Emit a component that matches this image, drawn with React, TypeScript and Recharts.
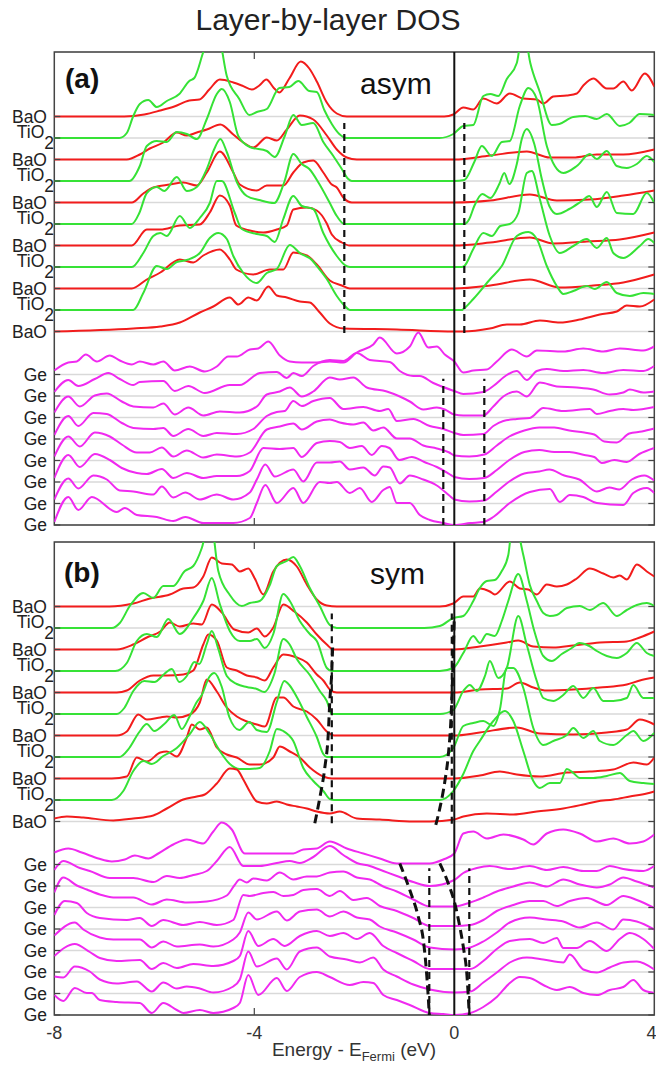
import { LineChart, Line, XAxis, YAxis, CartesianGrid, ReferenceLine, ReferenceArea } from 'recharts';

type Pt = [number, number];

// values are [energy (eV), DOS height above the layer baseline (arb. units)]

// ---- panel (a) "asym": oxide layers, top (BaO) to bottom (BaO)
const aBaO1: Pt[] = [[-8,0],[-6.6,0],[-6.2,2],[-5.88,6],[-5.6,10],[-5.3,16],[-5.1,17],[-4.9,27],[-4.69,37],[-4.42,34],[-4.25,31],[-4.05,27],[-3.9,31],[-3.76,37],[-3.6,28],[-3.5,24],[-3.3,38],[-3.07,55],[-2.9,48],[-2.75,35],[-2.55,14],[-2.35,3],[-2.15,0],[-0.2,0],[-0.02,2],[0.18,9],[0.38,7],[0.58,18],[0.85,13],[1.11,23],[1.38,18],[1.65,17],[1.78,13],[1.98,20],[2.25,21],[2.45,23],[2.58,31],[2.78,38],[3.05,28],[3.18,28],[3.38,35],[3.55,26],[3.81,43],[4,30]];
const aTiO1: Pt[] = [[-8,0],[-6.7,0],[-6.55,5],[-6.42,22],[-6.29,34],[-6.12,38],[-5.95,31],[-5.75,37],[-5.5,44],[-5.3,57],[-5.2,60],[-5.02,86],[-4.85,110],[-4.7,100],[-4.55,62],[-4.3,39],[-4.1,23],[-3.95,26],[-3.75,29],[-3.5,50],[-3.3,51],[-3.12,57],[-2.9,47],[-2.75,46],[-2.6,28],[-2.45,14],[-2.3,4],[-2.15,0],[-0.3,0],[-0.02,4],[0.18,12],[0.38,13],[0.58,42],[0.72,44],[0.88,42],[1.05,59],[1.25,75],[1.38,110],[1.52,75],[1.71,46],[1.95,13],[2.1,14],[2.38,21],[2.62,22],[2.85,19],[3.05,24],[3.31,12],[3.5,15],[3.71,24],[4,23]];
const aBaO2: Pt[] = [[-8,0],[-6.55,0],[-6.29,5],[-6.09,11],[-5.82,17],[-5.55,27],[-5.35,24],[-5.15,27],[-4.95,30],[-4.68,35],[-4.42,25],[-4.22,17],[-4.02,12],[-3.75,22],[-3.55,19],[-3.35,30],[-3.09,44],[-2.82,40],[-2.55,24],[-2.35,10],[-2.15,2],[-1.95,0],[0,0],[0.72,4],[1.45,8],[1.91,2],[2.38,2],[2.85,5],[3.38,5],[4,10]];
const aTiO2: Pt[] = [[-8,0],[-6.5,0],[-6.29,15],[-6.15,35],[-5.95,40],[-5.75,39],[-5.55,49],[-5.35,47],[-5.15,42],[-4.95,62],[-4.75,87],[-4.65,92],[-4.49,79],[-4.32,45],[-4.09,34],[-3.75,30],[-3.59,24],[-3.39,45],[-3.22,66],[-3.05,56],[-2.82,58],[-2.62,39],[-2.42,25],[-2.25,12],[-2.12,2],[-2.05,0],[0,0],[0.2,1],[0.4,19],[0.55,35],[0.75,25],[0.95,39],[1.11,40],[1.31,75],[1.48,93],[1.65,82],[1.85,35],[2.01,15],[2.18,8],[2.45,15],[2.71,27],[2.85,22],[3.05,30],[3.25,15],[3.45,13],[3.65,17],[3.85,25],[4,19]];
const aBaO3: Pt[] = [[-8,0],[-6.45,0],[-6.22,9],[-6.02,15],[-5.69,18],[-5.42,20],[-5.15,17],[-4.95,30],[-4.69,51],[-4.42,30],[-4.29,18],[-3.95,12],[-3.75,17],[-3.42,17],[-3.22,30],[-3.02,40],[-2.82,42],[-2.62,30],[-2.45,18],[-2.35,15],[-2.22,5],[-2.05,0],[0,0],[0.72,2],[1.51,8],[2.05,2],[2.71,3],[3.38,7],[4,12]];
const aTiO3: Pt[] = [[-8,0],[-6.45,0],[-6.3,11],[-6.15,31],[-5.95,37],[-5.8,33],[-5.55,47],[-5.35,33],[-5.15,37],[-4.95,55],[-4.8,75],[-4.68,85],[-4.55,72],[-4.35,42],[-4.15,28],[-3.9,24],[-3.6,21],[-3.4,42],[-3.22,70],[-3.05,60],[-2.9,55],[-2.7,40],[-2.5,22],[-2.35,8],[-2.2,0],[0.2,0],[0.3,5],[0.4,18],[0.56,30],[0.72,26],[0.9,40],[1.0,51],[1.1,40],[1.25,60],[1.35,85],[1.45,95],[1.6,80],[1.75,45],[1.9,18],[2.05,10],[2.3,15],[2.55,23],[2.7,28],[2.85,17],[3.05,32],[3.25,11],[3.58,10],[3.85,31],[4,21]];
const aBaO4: Pt[] = [[-8,0],[-6.45,0],[-6.15,16],[-5.88,16],[-5.49,20],[-5.09,21],[-4.89,33],[-4.69,50],[-4.49,40],[-4.36,20],[-4.09,15],[-3.82,13],[-3.55,16],[-3.35,20],[-3.22,36],[-2.95,38],[-2.75,35],[-2.55,22],[-2.45,11],[-2.25,3],[-2.09,0],[0,0],[0.72,3],[1.51,8],[1.98,2],[2.65,4],[3.31,6],[4,13]];
const aTiO4: Pt[] = [[-8,0],[-6.45,0],[-6.22,14],[-6.02,31],[-5.88,34],[-5.75,31],[-5.49,51],[-5.29,39],[-5.09,49],[-4.89,64],[-4.75,86],[-4.65,86],[-4.39,54],[-4.25,38],[-3.95,33],[-3.75,31],[-3.59,25],[-3.42,48],[-3.22,71],[-3.05,61],[-2.82,58],[-2.62,34],[-2.35,11],[-2.19,2],[-2.09,0],[0.15,0],[0.2,1],[0.38,18],[0.58,34],[0.75,31],[0.92,41],[1.11,43],[1.28,54],[1.45,94],[1.55,96],[1.71,68],[1.91,31],[2.11,14],[2.38,21],[2.65,28],[2.85,19],[3.05,29],[3.18,14],[3.38,9],[3.71,21],[3.88,28],[4,24]];
const aBaO5: Pt[] = [[-8,0],[-6.45,0],[-6.15,9],[-5.88,16],[-5.49,29],[-5.22,26],[-5.02,33],[-4.69,39],[-4.49,29],[-4.36,19],[-4.02,14],[-3.69,19],[-3.42,19],[-3.22,36],[-2.95,33],[-2.75,24],[-2.49,8],[-2.25,3],[-2.09,0],[0,0],[0.72,3],[1.51,9],[2.11,1],[2.78,3],[3.38,6],[4,14]];
const aTiO5: Pt[] = [[-8,0],[-6.42,0],[-6.22,17],[-5.95,44],[-5.75,41],[-5.55,48],[-5.35,50],[-5.09,57],[-4.89,72],[-4.72,77],[-4.55,71],[-4.42,54],[-4.22,37],[-3.95,27],[-3.75,37],[-3.55,41],[-3.29,65],[-3.09,57],[-2.85,50],[-2.75,44],[-2.55,31],[-2.35,14],[-2.19,4],[-2.09,0],[0.15,0],[0.18,1],[0.38,11],[0.72,31],[0.95,44],[1.25,74],[1.48,78],[1.65,71],[1.85,44],[2.05,24],[2.18,16],[2.38,19],[2.65,24],[2.81,21],[3.05,28],[3.25,17],[3.51,14],[3.78,17],[4,16]];
const aBaO6: Pt[] = [[-8,0],[-6.42,3],[-5.88,5],[-5.49,9],[-5.09,19],[-4.82,25],[-4.49,34],[-4.32,27],[-4.12,34],[-3.95,31],[-3.72,45],[-3.55,36],[-3.35,34],[-3.09,30],[-2.89,29],[-2.69,19],[-2.49,8],[-2.21,3],[-1.15,2],[0,0],[0.18,0],[0.71,3],[1.05,7],[1.31,7],[1.71,11],[2.11,9],[2.51,12],[2.91,17],[3.25,20],[3.45,26],[3.71,25],[4,32]];

// ---- panel (a): Ge layers, top to bottom
const aGe1: Pt[] = [[-8,4],[-7.72,12],[-7.55,13],[-7.37,20],[-7.15,13],[-6.89,19],[-6.69,14],[-6.45,10],[-6.29,13],[-6.02,10],[-5.82,13],[-5.59,4],[-5.29,8],[-4.99,3],[-4.75,8],[-4.52,18],[-4.35,18],[-4.09,25],[-3.92,26],[-3.72,33],[-3.49,19],[-3.29,13],[-3.05,12],[-2.75,12],[-2.49,13],[-2.22,12],[-1.95,22],[-1.62,30],[-1.49,37],[-1.15,21],[-0.89,28],[-0.72,42],[-0.52,27],[-0.35,28],[-0.19,20],[0,13],[0.18,2],[0.38,4],[0.65,5],[0.85,13],[1.15,25],[1.45,18],[1.65,24],[2.18,23],[2.58,26],[2.98,23],[3.31,26],[3.78,24],[4,28]];
const aGe2: Pt[] = [[-8,4],[-7.72,16],[-7.52,10],[-7.19,17],[-6.92,23],[-6.69,17],[-6.42,11],[-6.29,14],[-5.82,15],[-5.59,5],[-5.32,10],[-4.99,3],[-4.49,11],[-4.29,11],[-3.89,23],[-3.55,24],[-3.35,18],[-3.22,23],[-3.05,20],[-2.82,30],[-2.49,36],[-2.22,35],[-1.95,43],[-1.69,36],[-1.29,34],[-1.09,25],[-0.82,20],[-0.69,20],[-0.42,13],[0,5],[0.18,2],[0.58,4],[0.78,10],[1.05,21],[1.25,25],[1.45,16],[1.65,25],[1.85,27],[2.18,25],[2.58,26],[2.98,23],[3.38,26],[3.78,25],[4,30]];
const aGe3: Pt[] = [[-8,5],[-7.72,21],[-7.49,11],[-7.19,22],[-6.95,24],[-6.65,16],[-6.42,11],[-6.02,10],[-5.82,14],[-5.59,3],[-5.32,10],[-5.02,2],[-4.69,6],[-4.29,5],[-3.95,11],[-3.75,23],[-3.49,26],[-3.29,30],[-3.05,21],[-2.82,26],[-2.49,40],[-2.29,38],[-2.02,40],[-1.75,30],[-1.35,26],[-1.09,21],[-0.89,16],[-0.62,8],[-0.35,10],[-0.19,8],[0,3],[0.18,2],[0.58,2],[0.78,11],[0.98,21],[1.25,26],[1.45,21],[1.71,35],[2.05,31],[2.45,30],[2.78,28],[3.11,23],[3.38,25],[3.51,28],[3.78,25],[4,26]];
const aGe4: Pt[] = [[-8,4],[-7.72,23],[-7.52,13],[-7.22,26],[-6.95,25],[-6.65,16],[-6.42,11],[-6.02,10],[-5.82,11],[-5.62,3],[-5.32,10],[-5.02,3],[-4.75,6],[-4.35,5],[-4.02,10],[-3.75,23],[-3.55,27],[-3.39,28],[-3.22,38],[-3.05,33],[-2.82,38],[-2.49,41],[-2.22,30],[-1.82,32],[-1.49,28],[-1.32,30],[-1.15,18],[-0.82,20],[-0.49,13],[-0.22,10],[0,6],[0.18,4],[0.58,5],[0.78,13],[0.98,18],[1.25,20],[1.51,21],[1.78,31],[2.18,28],[2.71,30],[2.85,25],[3.11,28],[3.38,30],[3.58,29],[4,32]];
const aGe5: Pt[] = [[-8,4],[-7.72,24],[-7.49,14],[-7.19,28],[-6.89,24],[-6.65,16],[-6.35,8],[-6.09,8],[-5.85,13],[-5.62,4],[-5.35,10],[-5.02,3],[-4.75,6],[-4.35,4],[-4.09,8],[-3.75,31],[-3.49,34],[-3.22,37],[-3.05,31],[-2.75,39],[-2.49,41],[-2.29,38],[-2.02,36],[-1.82,38],[-1.62,30],[-1.42,33],[-1.15,22],[-0.89,22],[-0.62,15],[-0.35,12],[-0.1,8],[0,5],[0.3,4],[0.6,6],[0.85,15],[1.1,24],[1.4,30],[1.7,33],[2.0,33],[2.3,30],[2.6,28],[2.8,26],[3.0,19],[3.25,18],[3.5,27],[3.75,29],[4,32]];
const aGe6: Pt[] = [[-8,4],[-7.72,27],[-7.49,15],[-7.19,28],[-6.89,22],[-6.65,14],[-6.35,9],[-6.15,8],[-5.85,13],[-5.62,4],[-5.35,9],[-5.02,4],[-4.75,6],[-4.35,6],[-4.09,11],[-3.82,34],[-3.49,33],[-3.22,34],[-3.05,25],[-2.75,39],[-2.49,41],[-2.29,40],[-2.09,34],[-1.85,36],[-1.65,27],[-1.45,36],[-1.3,34],[-1.1,22],[-0.85,25],[-0.6,20],[-0.35,15],[-0.1,8],[0,5],[0.3,3],[0.6,4],[0.85,12],[1.1,22],[1.4,30],[1.7,32],[2.0,30],[2.3,30],[2.6,27],[2.8,25],[2.95,19],[3.2,22],[3.45,20],[3.7,28],[4,34]];
const aGe7: Pt[] = [[-8,4],[-7.72,25],[-7.52,15],[-7.22,28],[-6.95,24],[-6.69,13],[-6.42,12],[-6.02,9],[-5.85,17],[-5.62,6],[-5.38,11],[-5.09,4],[-4.75,9],[-4.42,4],[-4.09,11],[-3.95,24],[-3.78,39],[-3.59,27],[-3.22,34],[-3.02,22],[-2.75,41],[-2.49,41],[-2.29,42],[-2.09,34],[-1.82,36],[-1.59,28],[-1.42,37],[-1.29,36],[-1.09,20],[-0.89,28],[-0.62,24],[-0.35,18],[-0.1,8],[0,4],[0.3,2],[0.6,3],[0.85,12],[1.1,22],[1.4,30],[1.7,32],[1.9,34],[2.2,28],[2.5,24],[2.85,12],[3.1,16],[3.3,14],[3.55,24],[3.8,28],[4,23]];
const aGe8: Pt[] = [[-8,3],[-7.72,28],[-7.52,15],[-7.25,28],[-6.75,13],[-6.59,17],[-6.35,10],[-5.95,8],[-5.62,4],[-5.38,8],[-5.02,2],[-4.42,2],[-4.09,7],[-3.95,22],[-3.78,40],[-3.55,22],[-3.22,37],[-3.02,22],[-2.69,43],[-2.49,42],[-2.35,43],[-2.09,32],[-1.89,37],[-1.65,23],[-1.42,35],[-1.29,38],[-1.15,22],[-0.89,22],[-0.69,10],[-0.49,5],[-0.22,2],[0,0],[0.32,2],[0.58,3],[0.78,8],[1.11,22],[1.51,33],[1.91,36],[2.11,23],[2.31,30],[2.58,28],[2.85,22],[3.38,20],[3.58,32],[3.85,37],[4,32]];

// ---- panel (b) "sym": oxide layers
const bBaO1: Pt[] = [[-8,0],[-6.9,0],[-6.42,3],[-6.09,8],[-5.69,12],[-5.42,18],[-5.22,19],[-5.02,30],[-4.85,49],[-4.65,43],[-4.45,42],[-4.29,35],[-4.12,38],[-3.99,28],[-3.82,12],[-3.62,35],[-3.35,47],[-3.15,40],[-2.95,22],[-2.75,7],[-2.55,1],[-2.35,0],[-0.29,0],[-0.02,3],[0.18,10],[0.38,10],[0.51,18],[0.71,15],[0.81,12],[1.11,25],[1.31,18],[1.48,17],[1.65,12],[1.85,22],[2.05,20],[2.25,22],[2.45,28],[2.71,38],[2.98,33],[3.18,29],[3.31,31],[3.45,27],[3.65,42],[3.85,35],[4,30]];
const bTiO1: Pt[] = [[-8,0],[-6.85,0],[-6.69,5],[-6.49,22],[-6.22,35],[-6.02,30],[-5.82,42],[-5.62,42],[-5.39,57],[-5.22,62],[-5.05,80],[-4.88,110],[-4.72,57],[-4.49,33],[-4.25,22],[-4.09,25],[-3.89,27],[-3.69,43],[-3.55,62],[-3.35,67],[-3.22,71],[-3.09,62],[-2.89,40],[-2.69,22],[-2.49,3],[-2.35,0],[-0.6,0],[-0.29,2],[-0.02,10],[0.18,12],[0.38,27],[0.51,40],[0.65,47],[0.81,48],[0.95,57],[1.08,73],[1.18,110],[1.38,73],[1.51,43],[1.65,27],[1.78,15],[1.91,12],[2.05,13],[2.25,20],[2.51,22],[2.71,18],[2.98,25],[3.25,12],[3.45,18],[3.65,23],[3.85,25],[4,22]];
const bBaO2: Pt[] = [[-8,0],[-6.75,0],[-6.42,5],[-6.15,12],[-5.88,18],[-5.69,27],[-5.49,23],[-5.22,26],[-5.05,25],[-4.85,45],[-4.65,37],[-4.4,20],[-4.12,17],[-3.95,21],[-3.79,13],[-3.62,22],[-3.42,45],[-3.2,38],[-2.95,27],[-2.75,15],[-2.55,5],[-2.42,0],[0,0],[0.51,3],[1.05,7],[1.28,9],[1.58,3],[1.98,2],[2.38,4],[2.91,7],[3.45,8],[3.71,12],[4,18]];
const bTiO2: Pt[] = [[-8,0],[-6.78,0],[-6.55,8],[-6.35,30],[-6.15,37],[-5.95,34],[-5.72,52],[-5.49,37],[-5.22,53],[-5.02,70],[-4.85,93],[-4.69,67],[-4.49,40],[-4.29,30],[-4.09,30],[-3.95,32],[-3.79,23],[-3.62,37],[-3.42,77],[-3.29,70],[-3.09,50],[-2.89,37],[-2.75,30],[-2.55,3],[-2.45,0],[-0.29,0],[-0.02,3],[0.18,18],[0.38,35],[0.51,28],[0.65,37],[0.81,35],[0.95,50],[1.08,70],[1.28,97],[1.45,70],[1.6,40],[1.78,15],[1.95,10],[2.15,17],[2.35,23],[2.5,28],[2.7,25],[2.85,20],[3.05,15],[3.25,13],[3.45,18],[3.65,28],[3.85,18],[4,15]];
const bBaO3: Pt[] = [[-8,0],[-6.75,0],[-6.55,2],[-6.29,12],[-6.02,17],[-5.75,17],[-5.42,18],[-5.22,22],[-5.02,48],[-4.92,58],[-4.75,52],[-4.55,25],[-4.35,22],[-4.15,17],[-3.95,15],[-3.79,12],[-3.62,25],[-3.42,38],[-3.15,35],[-2.95,30],[-2.75,18],[-2.62,12],[-2.49,3],[-2.35,0],[0,0],[0.51,3],[1.05,4],[1.31,10],[1.58,5],[1.85,2],[2.38,3],[2.91,5],[3.45,8],[3.71,12],[4,15]];
const bTiO3: Pt[] = [[-8,0],[-6.75,0],[-6.6,6],[-6.42,23],[-6.2,33],[-6.0,32],[-5.8,40],[-5.65,45],[-5.5,32],[-5.35,38],[-5.2,52],[-5.1,50],[-4.95,70],[-4.85,83],[-4.72,65],[-4.55,38],[-4.35,30],[-4.15,27],[-3.95,25],[-3.8,22],[-3.6,40],[-3.42,75],[-3.3,70],[-3.15,55],[-2.89,39],[-2.69,23],[-2.55,13],[-2.45,0],[-0.29,0],[-0.02,4],[0.18,23],[0.31,29],[0.45,23],[0.62,39],[0.71,53],[0.88,36],[1.05,46],[1.28,98],[1.45,69],[1.65,33],[1.78,16],[1.98,13],[2.18,19],[2.38,28],[2.58,16],[2.78,26],[2.98,13],[3.18,13],[3.45,16],[3.58,29],[3.78,16],[4,16]];
const bBaO4: Pt[] = [[-8,0],[-6.75,0],[-6.55,4],[-6.32,21],[-6.15,16],[-5.88,18],[-5.75,19],[-5.55,18],[-5.29,21],[-5.09,33],[-4.95,56],[-4.75,44],[-4.55,28],[-4.35,19],[-4.15,14],[-3.95,11],[-3.79,9],[-3.55,38],[-3.42,38],[-3.22,29],[-2.95,24],[-2.75,16],[-2.55,4],[-2.4,0],[0,0],[0.51,3],[1.25,8],[1.71,2],[2.38,1],[3.05,3],[3.45,6],[3.71,16],[4,11]];
const bTiO4: Pt[] = [[-8,0],[-6.7,0],[-6.5,9],[-6.3,25],[-6.15,33],[-6.0,26],[-5.8,33],[-5.6,42],[-5.45,28],[-5.3,40],[-5.15,55],[-5.05,62],[-4.9,80],[-4.8,84],[-4.65,70],[-4.5,40],[-4.3,27],[-4.1,35],[-3.95,27],[-3.75,25],[-3.55,55],[-3.4,76],[-3.3,72],[-3.15,60],[-2.95,40],[-2.75,20],[-2.62,3],[-2.55,0],[-0.29,0],[-0.02,9],[0.18,31],[0.38,34],[0.58,36],[0.78,31],[0.91,47],[1.05,89],[1.18,89],[1.38,69],[1.58,29],[1.78,12],[1.98,16],[2.25,22],[2.38,29],[2.58,19],[2.78,26],[2.91,16],[3.18,12],[3.45,22],[3.58,26],[3.78,16],[4,24]];
const bBaO5: Pt[] = [[-8,0],[-6.85,0],[-6.55,2],[-6.35,21],[-6.15,17],[-5.88,26],[-5.75,27],[-5.55,22],[-5.35,41],[-5.25,54],[-5.09,49],[-4.95,51],[-4.75,31],[-4.55,24],[-4.35,21],[-4.09,14],[-3.89,14],[-3.62,21],[-3.49,32],[-3.29,27],[-3.09,21],[-2.89,11],[-2.62,2],[-2.45,0],[0,0],[0.51,3],[0.91,7],[1.25,4],[1.71,2],[2.25,6],[2.71,7],[3.18,9],[3.58,16],[3.85,14],[4,21]];
const bTiO5: Pt[] = [[-8,0],[-6.85,0],[-6.62,9],[-6.42,29],[-6.22,39],[-6.05,36],[-5.82,44],[-5.55,52],[-5.29,66],[-5.09,78],[-4.89,66],[-4.69,49],[-4.49,36],[-4.29,31],[-4.09,31],[-3.89,32],[-3.69,49],[-3.55,71],[-3.42,69],[-3.22,59],[-3.02,32],[-2.82,19],[-2.62,9],[-2.49,1],[-2.4,0],[-0.29,0],[-0.02,9],[0.18,26],[0.38,49],[0.51,59],[0.78,79],[1.01,89],[1.18,79],[1.38,49],[1.58,19],[1.71,12],[1.91,17],[2.11,17],[2.25,31],[2.38,27],[2.51,22],[2.78,22],[3.05,24],[3.31,27],[3.51,19],[3.78,17],[4,16]];
const bBaO6: Pt[] = [[-8,3],[-7.75,5],[-7.42,4],[-6.82,1],[-6.42,3],[-6.02,6],[-5.75,13],[-5.42,22],[-5.15,25],[-4.99,27],[-4.75,38],[-4.49,53],[-4.35,52],[-4.22,42],[-4.09,30],[-3.95,20],[-3.75,18],[-3.55,20],[-3.35,17],[-3.15,15],[-2.95,13],[-2.75,10],[-2.49,8],[-2.29,10],[-1.95,3],[-1.49,2],[-0.82,0],[-0.49,0],[0,2],[0.18,5],[0.65,8],[1.18,7],[1.65,10],[2.18,13],[2.58,17],[2.85,20],[3.18,22],[3.51,25],[3.85,28],[4,30]];

// ---- panel (b): Ge layers
const bGe1: Pt[] = [[-8,12],[-7.72,16],[-7.45,12],[-7.12,6],[-6.85,3],[-6.59,5],[-6.39,9],[-6.12,6],[-5.92,11],[-5.62,20],[-5.35,25],[-5.02,21],[-4.82,33],[-4.65,42],[-4.45,35],[-4.19,11],[-3.89,11],[-3.55,11],[-3.22,11],[-3.02,15],[-2.75,16],[-2.49,23],[-2.15,16],[-1.82,11],[-1.49,6],[-1.15,1],[-0.75,1],[-0.49,1],[-0.22,5],[0,11],[0.18,31],[0.38,33],[0.65,26],[0.98,30],[1.38,25],[1.58,20],[1.85,31],[2.18,35],[2.51,31],[2.85,23],[3.18,26],[3.51,21],[3.78,23],[4,30]];
const bGe2: Pt[] = [[-8,16],[-7.82,25],[-7.49,18],[-7.29,15],[-6.89,8],[-6.42,8],[-6.02,4],[-5.75,10],[-5.49,8],[-5.22,11],[-4.95,15],[-4.75,25],[-4.49,39],[-4.22,20],[-3.89,20],[-3.55,23],[-3.29,25],[-3.09,23],[-2.82,29],[-2.49,40],[-2.22,31],[-1.95,23],[-1.69,20],[-1.42,15],[-1.15,10],[-0.82,4],[-0.49,0],[0,6],[0.18,13],[0.45,18],[0.71,20],[1.11,17],[1.51,20],[1.85,16],[2.18,19],[2.58,15],[2.85,15],[3.11,20],[3.38,17],[3.78,15],[4,20]];
const bGe3: Pt[] = [[-8,15],[-7.82,30],[-7.55,22],[-7.35,18],[-7.09,13],[-6.82,10],[-6.42,10],[-6.05,3],[-5.75,8],[-5.35,5],[-4.95,6],[-4.55,12],[-4.4,22],[-4.29,28],[-4.15,25],[-4.02,29],[-3.75,27],[-3.49,35],[-3.22,28],[-2.95,31],[-2.75,31],[-2.49,35],[-2.22,36],[-1.95,30],[-1.69,28],[-1.42,21],[-1.15,16],[-0.82,8],[-0.49,1],[0,1],[0.32,5],[0.58,10],[0.85,16],[1.18,21],[1.51,25],[1.85,21],[2.18,28],[2.51,23],[2.85,20],[3.11,23],[3.38,30],[3.65,26],[4,20]];
const bGe4: Pt[] = [[-8,14],[-7.79,28],[-7.55,26],[-7.35,16],[-7.09,11],[-6.55,9],[-6.29,11],[-6.05,3],[-5.82,9],[-5.42,4],[-5.09,7],[-4.75,4],[-4.42,9],[-4.22,34],[-4.09,33],[-3.82,36],[-3.62,37],[-3.42,33],[-3.22,34],[-3.02,39],[-2.75,40],[-2.49,33],[-2.29,38],[-2.02,29],[-1.75,31],[-1.49,23],[-1.15,18],[-0.82,11],[-0.49,3],[0,3],[0.32,4],[0.58,9],[0.85,18],[1.18,24],[1.51,28],[1.78,28],[2.05,23],[2.31,28],[2.65,31],[3.05,24],[3.38,33],[3.65,29],[4,21]];
const bGe5: Pt[] = [[-8,15],[-7.59,28],[-7.42,21],[-7.09,13],[-6.82,11],[-6.29,11],[-6.05,3],[-5.82,9],[-5.55,4],[-5.09,6],[-4.82,4],[-4.42,11],[-4.29,18],[-4.12,38],[-3.95,31],[-3.55,39],[-3.35,30],[-3.09,39],[-2.75,41],[-2.49,34],[-2.22,39],[-1.95,33],[-1.69,31],[-1.49,24],[-1.15,18],[-0.82,11],[-0.49,3],[0,1],[0.32,3],[0.58,9],[0.85,18],[1.11,28],[1.51,33],[1.85,31],[2.18,29],[2.51,23],[2.85,28],[3.18,21],[3.38,31],[3.65,29],[4,21]];
const bGe6: Pt[] = [[-8,16],[-7.59,28],[-7.29,20],[-7.09,14],[-6.75,11],[-6.29,12],[-6.05,3],[-5.82,9],[-5.55,4],[-5.22,8],[-4.82,6],[-4.42,11],[-4.29,16],[-4.12,41],[-3.92,26],[-3.62,33],[-3.39,26],[-3.09,36],[-2.75,41],[-2.49,36],[-2.22,39],[-1.95,33],[-1.69,39],[-1.42,26],[-1.15,19],[-0.82,11],[-0.49,3],[0,3],[0.32,3],[0.58,11],[0.85,23],[1.11,31],[1.51,33],[1.78,29],[2.05,34],[2.18,24],[2.45,24],[2.71,31],[3.05,21],[3.31,33],[3.51,39],[3.78,33],[4,23]];
const bGe7: Pt[] = [[-8,17],[-7.82,16],[-7.59,27],[-7.29,22],[-7.09,14],[-6.75,10],[-6.35,12],[-6.05,2],[-5.82,11],[-5.55,5],[-5.35,7],[-5.09,5],[-4.82,1],[-4.42,7],[-4.29,14],[-4.12,42],[-3.95,27],[-3.55,35],[-3.35,24],[-3.09,42],[-2.75,46],[-2.49,37],[-2.15,34],[-1.89,31],[-1.62,36],[-1.42,24],[-1.15,17],[-0.82,9],[-0.49,4],[0,1],[0.32,2],[0.58,11],[0.85,21],[1.11,31],[1.45,36],[1.78,34],[2.18,31],[2.31,39],[2.58,24],[2.85,21],[3.11,26],[3.38,31],[3.65,32],[4,24]];
const bGe8: Pt[] = [[-8,20],[-7.82,14],[-7.59,27],[-7.35,22],[-7.25,22],[-7.09,15],[-6.75,13],[-6.29,12],[-6.05,2],[-5.82,12],[-5.55,5],[-5.42,2],[-5.09,5],[-4.82,2],[-4.42,7],[-4.29,12],[-4.12,40],[-3.92,20],[-3.55,37],[-3.35,24],[-3.09,38],[-2.75,43],[-2.49,38],[-2.09,30],[-1.82,33],[-1.62,32],[-1.42,20],[-1.15,15],[-0.89,10],[-0.49,2],[-0.22,1],[0,0],[0.32,2],[0.58,8],[0.85,18],[1.11,32],[1.31,38],[1.51,37],[1.78,30],[2.05,25],[2.31,28],[2.58,22],[2.85,20],[3.11,25],[3.38,28],[3.58,35],[3.78,25],[4,22]];

// band-edge guides: [energy, layer level]
const edgeA: Pt[][] = [
  [[-2.2, 8.93], [-2.2, 18.7]],
  [[0.2, 8.93], [0.2, 18.7]],
  [[-0.22, 0], [-0.22, 6.8]],
  [[0.6, 0], [0.6, 6.8]],
];
const edgeBStraight: Pt[][] = [
  [[-2.45, 8.92], [-2.45, 18.68]],
  [[-0.05, 8.9], [-0.05, 18.68]],
  [[-0.5, 0], [-0.5, 6.82]],
  [[0.3, 0], [0.3, 6.82]],
];
const edgeBBent: Pt[][] = [
  [[-2.79, 8.92], [-2.69, 10.1], [-2.59, 11.5], [-2.52, 13.1], [-2.49, 14.6], [-2.45, 16.0], [-2.43, 17.3]],
  [[-0.37, 8.84], [-0.29, 9.61], [-0.19, 10.85], [-0.12, 12.09], [-0.07, 13.64], [-0.04, 15.35], [-0.02, 16.9], [0, 18.53]],
  [[-1.09, 7.05], [-0.89, 5.81], [-0.72, 4.57], [-0.62, 3.49], [-0.57, 2.4], [-0.53, 1.16], [-0.5, 0]],
  [[-0.29, 7.05], [-0.12, 6.12], [0.01, 5.19], [0.11, 4.11], [0.19, 3.02], [0.25, 1.94], [0.28, 0.85], [0.3, 0]],
];

const oxidesA = [aBaO1, aTiO1, aBaO2, aTiO2, aBaO3, aTiO3, aBaO4, aTiO4, aBaO5, aTiO5, aBaO6];
const gesA = [aGe1, aGe2, aGe3, aGe4, aGe5, aGe6, aGe7, aGe8];
const oxidesB = [bBaO1, bTiO1, bBaO2, bTiO2, bBaO3, bTiO3, bBaO4, bTiO4, bBaO5, bTiO5, bBaO6];
const gesB = [bGe1, bGe2, bGe3, bGe4, bGe5, bGe6, bGe7, bGe8];

const oxideLevels = [19, 18, 17, 16, 15, 14, 13, 12, 11, 10, 9];
const geLevels = [7, 6, 5, 4, 3, 2, 1, 0];

const SP = 21.5;
const TOP = 473;
const RED = '#f21c1c';
const GREEN = '#36e236';
const MAGENTA = '#f02af0';
const FONT = '"Liberation Sans", Arial, Helvetica, sans-serif';
const PLOT_L = 54.3;
const PLOT_R = 654.3;

const levelTicks = [...geLevels, ...oxideLevels].map((k) => k * SP);

const shift = (pts: Pt[], k: number) => pts.map(([x, h]) => ({ x, y: k * SP + h }));
const guide = (pts: Pt[]) => pts.map(([x, k]) => ({ x, y: k * SP }));

function LayerTick(props: any) {
  const { y, payload } = props;
  const k = Math.round(payload.value / SP);
  const marks = (
    <>
      <line x1={PLOT_L} x2={PLOT_L + 6} y1={y} y2={y} stroke="#444" strokeWidth={1.2} />
      <line x1={PLOT_R - 6} x2={PLOT_R} y1={y} y2={y} stroke="#444" strokeWidth={1.2} />
    </>
  );
  if (k >= 9 && k % 2 === 0) {
    return (
      <g>
        {marks}
        <text x={54} y={y} textAnchor="end" fontSize={17.5} fill="#222" fontFamily={FONT}>
          TiO<tspan dy={11}>2</tspan>
        </text>
      </g>
    );
  }
  return (
    <g>
      {marks}
      <text x={47} y={y + 6.3} textAnchor="end" fontSize={17.5} fill="#222" fontFamily={FONT}>
        {k <= 7 ? 'Ge' : 'BaO'}
      </text>
    </g>
  );
}

function Panel({ oxides, ges, bent, straight, showX, height, margin }: any) {
  return (
    <LineChart width={656} height={height} margin={margin}>
      <CartesianGrid vertical={false} stroke="#d9d9d9" strokeWidth={1.5} />
      <XAxis
        type="number"
        dataKey="x"
        domain={[-8, 4]}
        ticks={[-8, -4, 0, 4]}
        allowDataOverflow
        hide={!showX}
        height={30}
        axisLine={false}
        tickLine={false}
        tickMargin={5}
        tick={{ fontSize: 18, fill: '#333', fontFamily: FONT }}
      />
      <YAxis
        type="number"
        domain={[0, TOP]}
        ticks={levelTicks}
        interval={0}
        width={PLOT_L}
        allowDataOverflow
        axisLine={false}
        tickLine={false}
        tick={(p: any) => <LayerTick {...p} />}
      />
      {ges.map((pts: Pt[], i: number) => (
        <Line key={'g' + i} data={shift(pts, geLevels[i])} dataKey="y" type="monotone" stroke={MAGENTA}
          strokeWidth={2} dot={false} isAnimationActive={false} />
      ))}
      {oxides.map((pts: Pt[], i: number) => (
        <Line key={'o' + i} data={shift(pts, oxideLevels[i])} dataKey="y" type="monotone"
          stroke={i % 2 === 0 ? RED : GREEN} strokeWidth={2} dot={false} isAnimationActive={false} />
      ))}
      {straight.map((pts: Pt[], i: number) => (
        <Line key={'s' + i} data={guide(pts)} dataKey="y" type="linear" stroke="#111" strokeWidth={2.2}
          strokeDasharray="7 5" dot={false} isAnimationActive={false} />
      ))}
      {bent.map((pts: Pt[], i: number) => (
        <Line key={'b' + i} data={guide(pts)} dataKey="y" type="monotone" stroke="#111" strokeWidth={3}
          strokeDasharray="9 5" dot={false} isAnimationActive={false} />
      ))}
      <ReferenceLine x={0} stroke="#111" strokeWidth={2} />
      <ReferenceLine segment={[{ x: -4, y: 0 }, { x: -4, y: 7 }]} stroke="#444" strokeWidth={1.2} />
      <ReferenceLine segment={[{ x: -4, y: TOP - 7 }, { x: -4, y: TOP }]} stroke="#444" strokeWidth={1.2} />
      <ReferenceArea x1={-8} x2={4} y1={0} y2={TOP} fill="none" fillOpacity={0} stroke="#444" strokeWidth={1.5} />
    </LineChart>
  );
}

export default function App() {
  return (
    <div style={{ position: 'absolute', left: 0, top: 0, width: 656, height: 1068, background: '#fff', fontFamily: FONT }}>
      <div style={{ position: 'absolute', left: 0, top: 0 }}>
        <Panel oxides={oxidesA} ges={gesA} bent={[]} straight={edgeA} showX={false} height={535}
          margin={{ top: 52, right: 1.7, bottom: 10, left: 0 }} />
      </div>
      <div style={{ position: 'absolute', left: 0, top: 535 }}>
        <Panel oxides={oxidesB} ges={gesB} bent={edgeBBent} straight={edgeBStraight} showX height={533}
          margin={{ top: 7, right: 1.7, bottom: 23, left: 0 }} />
      </div>
      <svg width={656} height={1068} style={{ position: 'absolute', left: 0, top: 0, pointerEvents: 'none' }}
        fontFamily={FONT}>
        <text x={328} y={30} textAnchor="middle" fontSize={30} fill="#222">Layer-by-layer DOS</text>
        <text x={65} y={88} fontSize={28} fontWeight="bold" fill="#111">(a)</text>
        <text x={360} y={94} fontSize={30} fill="#111">asym</text>
        <text x={64} y={582} fontSize={28} fontWeight="bold" fill="#111">(b)</text>
        <text x={370} y={584} fontSize={30} fill="#111">sym</text>
        <text x={354} y={1056} textAnchor="middle" fontSize={19} fill="#333">
          Energy - E<tspan fontSize={13} dy={5}>Fermi</tspan><tspan dy={-5}> (eV)</tspan>
        </text>
      </svg>
    </div>
  );
}
